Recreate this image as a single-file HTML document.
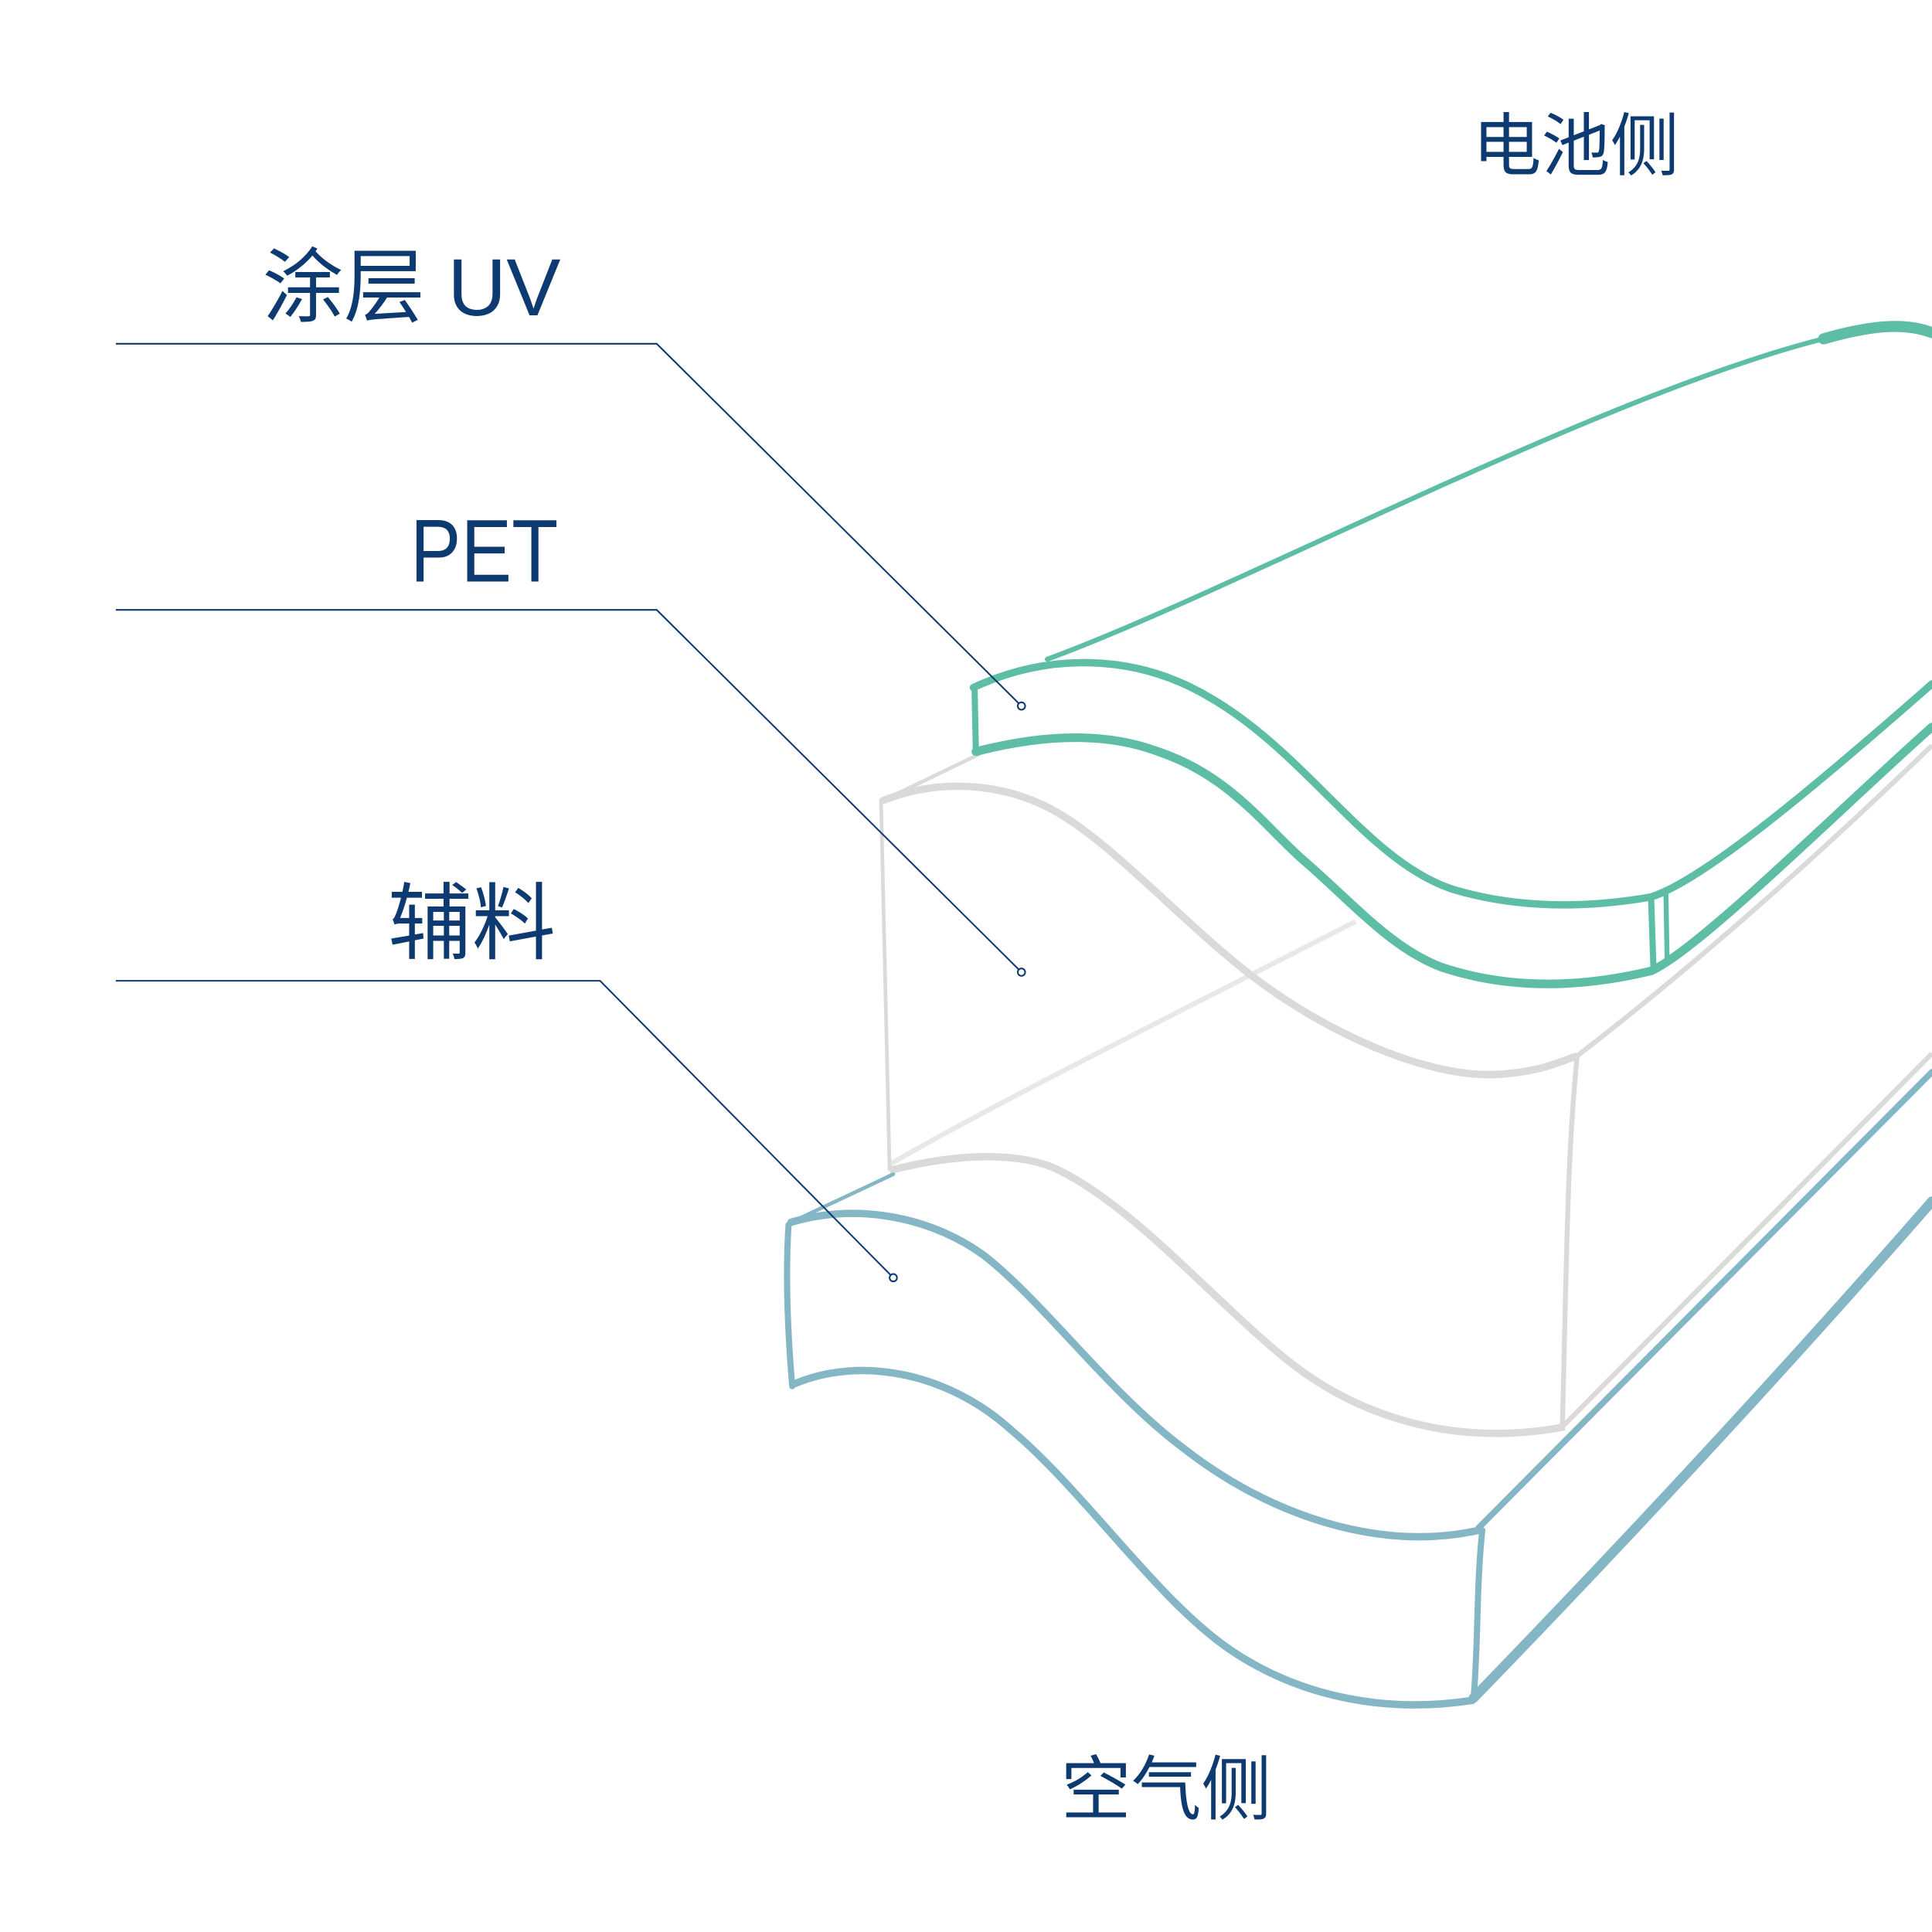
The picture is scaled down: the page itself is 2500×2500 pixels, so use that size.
<!DOCTYPE html>
<html><head><meta charset="utf-8"><style>
html,body{margin:0;padding:0;background:#fff;}
svg{display:block;}
text{font-family:"Liberation Sans","Noto Sans CJK SC",sans-serif;fill:#0d3a70;}
</style></head><body>
<svg width="2500" height="2500" viewBox="0 0 1568 1568" xmlns="http://www.w3.org/2000/svg">
<rect width="1568" height="1568" fill="#fff"/>
<text x="1195" y="138" font-size="56">电池侧</text>
<text x="213" y="256" font-size="66">涂层 UV</text>
<text x="333" y="472" font-size="72" textLength="120" lengthAdjust="spacingAndGlyphs">PET</text>
<text x="315" y="773" font-size="68">辅料</text>
<text x="861" y="1472" font-size="57">空气侧</text>

<g fill="none" stroke="#dadada">
<path d="M722,945 C800,900 900,850 1100,748" stroke="#e8e8e8" stroke-width="4"/>
<path d="M716,650 L795,612" stroke-width="3"/>
<path d="M715,648 L722,950" stroke-width="3"/>
<path d="M716,650 C760,632 810,635 850,655 C900,680 960,750 1020,795 C1080,840 1160,875 1215,872 C1250,870 1265,862 1280,857" stroke-width="6"/>
<path d="M1280,857 C1380,780 1480,690 1568,605" stroke-width="4"/>
<path d="M1280,857 C1272,940 1272,1000 1268,1158" stroke-width="4"/>
<path d="M722,950 C780,935 830,935 860,950 C920,980 980,1050 1040,1100 C1100,1150 1180,1175 1270,1158" stroke-width="6"/>
<path d="M1268,1158 C1370,1055 1470,955 1568,855" stroke-width="4"/>
</g>

<g fill="none" stroke="#5dbea5" stroke-linecap="round">
<path d="M850,535 C1000,480 1300,320 1480,275 C1520,264 1545,264 1568,272" stroke-width="4"/>
<path d="M1480,275 C1525,262 1550,263 1568,270" stroke-width="9"/>
<path d="M790,558 C850,530 920,530 980,565 C1060,610 1110,700 1180,722 C1240,740 1300,735 1340,728 C1380,715 1460,650 1568,555" stroke-width="6"/>
<path d="M792,610 C850,595 900,595 940,610 C1000,630 1030,675 1060,700 C1100,735 1130,770 1170,785 C1230,805 1290,800 1340,788 C1380,770 1500,650 1568,590" stroke-width="7"/>
<path d="M791,560 L792,610" stroke-width="5"/>
<path d="M1340,728 L1342,788" stroke-width="5"/>
<path d="M1352,722 L1353,778" stroke-width="4"/>
</g>

<g fill="none" stroke="#84b6c6" stroke-linecap="round">
<path d="M642,992 L725,953" stroke-width="3"/>
<path d="M642,992 C700,975 760,990 800,1020 C850,1060 900,1130 960,1175 C1030,1230 1120,1260 1200,1242" stroke-width="6"/>
<path d="M640,994 C637,1040 640,1090 643,1125" stroke-width="5"/>
<path d="M645,1123 C700,1100 770,1115 820,1160 C880,1210 940,1300 1000,1340 C1060,1380 1130,1390 1195,1380" stroke-width="6"/>
<path d="M1203,1242 C1198,1290 1200,1330 1196,1378" stroke-width="5"/>
<path d="M1200,1240 C1300,1140 1430,1010 1568,870" stroke-width="5"/>
<path d="M1196,1378 C1320,1250 1450,1110 1568,975" stroke-width="8"/>
</g>

<g fill="none" stroke="#0d3a70" stroke-width="1.3">
<polyline points="94,279 533,279 829,573"/>
<polyline points="94,495 533,495 829,789"/>
<polyline points="94,796 487,796 725,1037"/>
<circle cx="829" cy="573" r="3" fill="#fff"/>
<circle cx="829" cy="789" r="3" fill="#fff"/>
<circle cx="725" cy="1037" r="3" fill="#fff"/>
</g>
</svg>
</body></html>
